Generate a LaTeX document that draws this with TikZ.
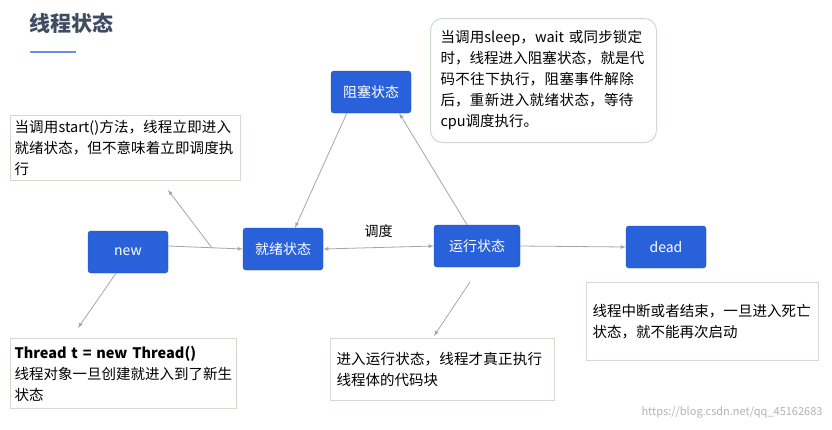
\documentclass[tikz,border=0pt]{standalone}
\usepackage{fontspec}
\setmainfont{Noto Sans CJK SC}
\XeTeXlinebreaklocale "zh"
\XeTeXlinebreakskip=0pt plus 1pt
\usetikzlibrary{positioning}
\definecolor{statecol}{rgb}{0.16,0.38,0.86}
\definecolor{notecol}{rgb}{0.82,0.86,0.80}
\definecolor{titlecol}{rgb}{0.25,0.30,0.38}
\tikzset{
  state/.style={draw=statecol!80!black,fill=statecol,text=white,rounded corners=3bp,
    minimum width=80bp,minimum height=42bp,font=\fontsize{14bp}{16bp}\selectfont},
  note/.style={draw=notecol,fill=white,line width=1bp,align=left,anchor=north west,
    inner sep=6bp,font=\fontsize{14.5bp}{21bp}\selectfont},
  link/.style={->,draw=gray!70,line width=0.8bp},
}
\begin{document}
\begin{tikzpicture}[x=1bp,y=-1bp,>=latex]
  \useasboundingbox (0,0) rectangle (832,429);
  \fill[white] (0,0) rectangle (832,429);
%%
  \node[anchor=west,font=\fontsize{21bp}{24bp}\selectfont\bfseries,text=titlecol] (title) at (26,23) {线程状态};
  \draw[statecol!70,line width=1.5bp] (30,52) -- (76,52);
  % States
  \node[state] (new) at (128,252) {new};
  \node[state] (ready) at (283,249) {就绪状态};
  \node[state] (block) at (371,92) {阻塞状态};
  \node[state,minimum width=86bp] (run) at (477,246) {运行状态};
  \node[state] (dead) at (666,247) {dead};
  % Notes
  \node[note,text width=222bp,minimum height=65bp,inner sep=4bp] (startnote) at (10,115)
    {当调用start()方法，线程立即进入就绪状态，但不意味着立即调度执行};
  \node[note,rounded corners=12bp,text width=206bp,minimum height=124bp,inner sep=10bp] (blocknote) at (430,18)
    {当调用sleep，wait 或同步锁定时，线程进入阻塞状态，就是代码不往下执行，阻塞事件解除后，重新进入就绪状态，等待cpu调度执行。};
  \node[note,text width=218bp,minimum height=70bp,inner sep=4bp] (newnote) at (10,338)
    {\textbf{Thread t = new Thread()}\\线程对象一旦创建就进入到了新生状态};
  \node[note,text width=212bp,minimum height=62bp] (runnote) at (330,338)
    {进入运行状态，线程才真正执行线程体的代码块};
  \node[note,text width=220bp,minimum height=78bp] (deadnote) at (586,282)
    {线程中断或者结束，一旦进入死亡状态，就不能再次启动};
  % Edges
  \draw[link] ([yshift=6bp]new.east) -- (ready.west);
  \draw[link,<->] (ready.east) -- node[above=6bp,text=black,font=\fontsize{14bp}{16bp}\selectfont] (sched) {调度} (run.west);
  \draw[link] ([xshift=16bp]block.south west) -- ([xshift=12bp]ready.north);
  \draw[link] ([xshift=-10bp]run.north) -- ([xshift=-12bp]block.south east);
  \draw[link] (run.east) -- (dead.west);
  % Callouts
  \coordinate (c1) at (212,248);
  \draw[link] (c1) -- (168,190);
  \draw[link] ([xshift=-12bp]new.south) -- (78,328);
  \draw[link] (470,282) -- (434,336);
%%
  \node[anchor=east,text=gray!60,font=\fontsize{11bp}{13bp}\selectfont] (mark) at (826,412) {https://blog.csdn.net/qq\_45162683};
\end{tikzpicture}
\end{document}
